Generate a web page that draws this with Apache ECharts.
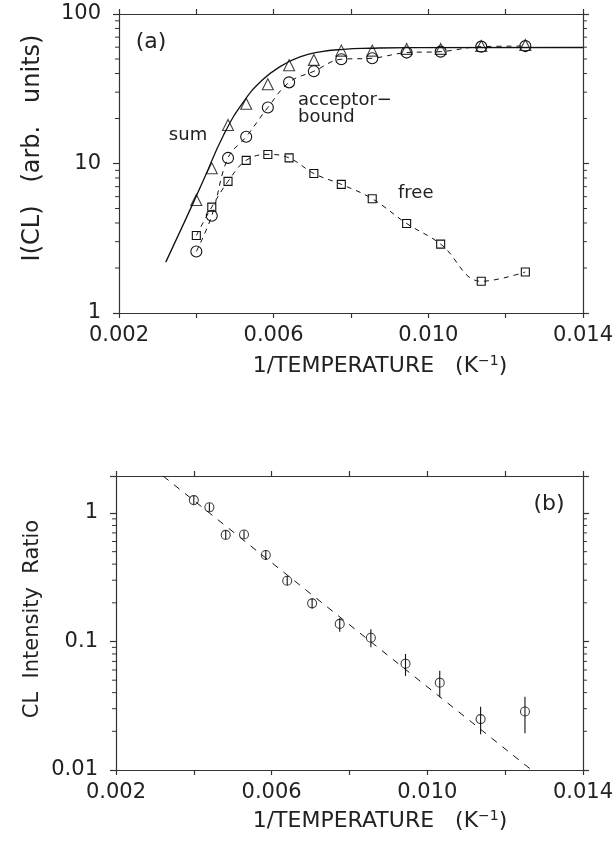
<!DOCTYPE html>
<html>
<head>
<meta charset="utf-8">
<script src="https://cdn.jsdelivr.net/npm/echarts@6/dist/echarts.min.js"></script>
<style>
html,body{margin:0;padding:0;background:#fff;}
#chart{width:616px;height:846px;}
</style>
</head>
<body>
<div id="chart"></div>
<script>
// ---------- data ----------
const invT = [0.00400, 0.00440, 0.00482, 0.00529, 0.00585, 0.00640, 0.00704, 0.00775, 0.00855, 0.00944, 0.01032, 0.01137, 0.01251];
const sumPts = [5.7, 9.3, 18.1, 25.1, 33.9, 45.4, 49.3, 56.9, 56.9, 58.4, 58.4, 61.1, 62.0];
const acceptorPts = [2.58, 4.47, 10.9, 15.1, 23.7, 34.9, 41.4, 49.8, 50.6, 55.2, 56.0, 60.5, 61.0];
const freePts = [3.30, 5.11, 7.59, 10.5, 11.5, 10.9, 8.57, 7.25, 5.81, 3.97, 2.89, 1.63, 1.88];
const sumFitX = [0.00321, 0.00370, 0.00420, 0.00470, 0.00520, 0.00570, 0.00620, 0.00670, 0.00720, 0.00780, 0.00850, 0.00950, 0.01400];
const sumFitY = [2.19, 4.1, 7.9, 15.4, 25.4, 36.0, 45.0, 51.8, 55.8, 58.0, 59.0, 59.6, 59.7];

const ratio   = [1.26, 1.107, 0.675, 0.68, 0.471, 0.297, 0.198, 0.137, 0.107, 0.0672, 0.0478, 0.0249, 0.0285];
const ratioHi = [1.36, 1.19, 0.724, 0.73, 0.515, 0.322, 0.217, 0.152, 0.1245, 0.080, 0.0593, 0.0311, 0.0371];
const ratioLo = [1.17, 1.03, 0.628, 0.63, 0.43, 0.274, 0.181, 0.119, 0.0901, 0.054, 0.0368, 0.0190, 0.0193];
const ratioFitX = [0.00321, 0.01268];
const ratioFitY = [1.94, 0.01];

const xTickLabels = ['0.002', '0.006', '0.010', '0.014'];
const yTicksA = ['1', '10', '100'];
const yTicksB = ['0.01', '0.1', '1'];
const minorA = [2,3,4,5,6,7,8,9,20,30,40,50,60,70,80,90];
const minorB = [0.02,0.03,0.04,0.05,0.06,0.07,0.08,0.09,0.2,0.3,0.4,0.5,0.6,0.7,0.8,0.9];

// ---------- styling ----------
const FONT = '"DejaVu Sans", sans-serif';
const TXT = '#222';
const AX = '#333';

function xFmt(v){
  const s = xTickLabels.find(t => Math.abs(parseFloat(t) - v) < 1e-7);
  return s || '';
}
function logFmt(list){
  return function(v){
    const s = list.find(t => Math.abs(Math.log10(parseFloat(t)) - Math.log10(v)) < 1e-6);
    return s || '';
  };
}
const zip = (a, b) => a.map((v, i) => [v, b[i]]);

function xAx(grid, pos, showLabel){
  return {
    type: 'value', gridIndex: grid, position: pos, min: 0.002, max: 0.014, interval: 0.002,
    axisLine: {show: true, onZero: false, lineStyle: {color: AX, width: 1.2}},
    axisTick: {show: true, inside: false, length: 5, lineStyle: {color: AX, width: 1.2}},
    splitLine: {show: false},
    axisLabel: {show: showLabel, formatter: xFmt, margin: 12, color: TXT, fontSize: 21, fontFamily: FONT}
  };
}
function yAx(grid, pos, min, max, list, showLabel){
  return {
    type: 'log', logBase: 10, gridIndex: grid, position: pos, min: min, max: max,
    axisLine: {show: true, onZero: false, lineStyle: {color: AX, width: 1.2}},
    axisTick: {show: true, inside: false, length: 6, lineStyle: {color: AX, width: 1.2}},
    splitLine: {show: false},
    axisLabel: {show: showLabel, formatter: logFmt(list), margin: 18, color: TXT, fontSize: 21, fontFamily: FONT}
  };
}
function minorTicks(xi, yi, list){
  return {
    type: 'custom', xAxisIndex: xi, yAxisIndex: yi, silent: true, clip: false, z: 5,
    data: list.map(v => [0.002, v]),
    renderItem: function(params, api){
      const p = api.coord([0.002, api.value(1)]);
      const q = api.coord([0.014, api.value(1)]);
      return {type: 'group', children: [
        {type: 'line', shape: {x1: p[0] - 4, y1: p[1], x2: p[0], y2: p[1]}, style: {stroke: AX, lineWidth: 1}},
        {type: 'line', shape: {x1: q[0], y1: q[1], x2: q[0] + 4, y2: q[1]}, style: {stroke: AX, lineWidth: 1}}
      ]};
    }
  };
}

const hollow = {color: 'rgba(0,0,0,0)', borderColor: '#111', borderWidth: 1.1};
const xTitle = '1/TEMPERATURE   (K{s|\u22121})';
const xTitleRich = {s: {fontSize: 14, fontFamily: FONT, fill: TXT, verticalAlign: 'top', padding: [0, 0, 9, 0]}};

const option = {
  animation: false,
  backgroundColor: '#fff',
  grid: [
    {left: 119, top: 14, width: 468, height: 299},
    {left: 116, top: 476, width: 468, height: 294}
  ],
  xAxis: [xAx(0, 'bottom', true), xAx(0, 'top', false), xAx(1, 'bottom', true), xAx(1, 'top', false)],
  yAxis: [yAx(0, 'left', 1, 100, yTicksA, true), yAx(0, 'right', 1, 100, yTicksA, false),
          yAx(1, 'left', 0.01, 1.94, yTicksB, true), yAx(1, 'right', 0.01, 1.94, yTicksB, false)],
  series: [
    {type: 'line', xAxisIndex: 0, yAxisIndex: 0, data: zip(sumFitX, sumFitY), smooth: 0.5,
     showSymbol: false, lineStyle: {color: '#111', width: 1.3}, z: 3},
    {type: 'scatter', xAxisIndex: 0, yAxisIndex: 0, data: zip(invT, sumPts), symbol: 'triangle', symbolSize: 11,
     itemStyle: hollow, z: 4},
    {type: 'line', xAxisIndex: 0, yAxisIndex: 0, data: zip(invT, acceptorPts), smooth: 0.4,
     symbol: 'circle', symbolSize: 11, showSymbol: true, itemStyle: hollow,
     lineStyle: {color: '#111', width: 1, type: [5, 5]}, z: 3},
    {type: 'line', xAxisIndex: 0, yAxisIndex: 0, data: zip(invT, freePts), smooth: 0.4,
     symbol: 'rect', symbolSize: 8, showSymbol: true, itemStyle: hollow,
     lineStyle: {color: '#111', width: 1, type: [5, 5]}, z: 3},
    minorTicks(0, 0, minorA),
    {type: 'line', xAxisIndex: 2, yAxisIndex: 2, data: zip(ratioFitX, ratioFitY), showSymbol: false,
     lineStyle: {color: '#111', width: 1, type: [7, 7]}, z: 3},
    {type: 'custom', xAxisIndex: 2, yAxisIndex: 2, z: 4,
     data: invT.map((x, i) => [x, ratioLo[i], ratioHi[i]]),
     encode: {x: 0, y: [1, 2]},
     renderItem: function(params, api){
       const a = api.coord([api.value(0), api.value(1)]);
       const b = api.coord([api.value(0), api.value(2)]);
       return {type: 'line', shape: {x1: a[0], y1: a[1], x2: b[0], y2: b[1]}, style: {stroke: '#111', lineWidth: 1.1}};
     }},
    {type: 'scatter', xAxisIndex: 2, yAxisIndex: 2, data: zip(invT, ratio), symbol: 'circle', symbolSize: 9,
     itemStyle: hollow, z: 5},
    minorTicks(2, 2, minorB)
  ],
  graphic: [
    {type: 'text', x: 151, y: 42, style: {text: '(a)', fontSize: 22, fontFamily: FONT, fill: TXT, align: 'center', verticalAlign: 'middle'}},
    {type: 'text', x: 188, y: 135, style: {text: 'sum', fontSize: 18, fontFamily: FONT, fill: TXT, align: 'center', verticalAlign: 'middle'}},
    {type: 'text', x: 298, y: 100, style: {text: 'acceptor\u2212', fontSize: 18, fontFamily: FONT, fill: TXT, align: 'left', verticalAlign: 'middle'}},
    {type: 'text', x: 298, y: 117, style: {text: 'bound', fontSize: 18, fontFamily: FONT, fill: TXT, align: 'left', verticalAlign: 'middle'}},
    {type: 'text', x: 398, y: 193, style: {text: 'free', fontSize: 18, fontFamily: FONT, fill: TXT, align: 'left', verticalAlign: 'middle'}},
    {type: 'text', x: 549, y: 504, style: {text: '(b)', fontSize: 22, fontFamily: FONT, fill: TXT, align: 'center', verticalAlign: 'middle'}},
    {type: 'text', x: 33, y: 148, rotation: Math.PI / 2,
     style: {text: 'I(CL)   (arb.   units)', fontSize: 24, fontFamily: FONT, fill: TXT, align: 'center', verticalAlign: 'middle'}},
    {type: 'text', x: 33, y: 619, rotation: Math.PI / 2,
     style: {text: 'CL  Intensity  Ratio', fontSize: 21, fontFamily: FONT, fill: TXT, align: 'center', verticalAlign: 'middle'}},
    {type: 'text', x: 380, y: 366,
     style: {text: xTitle, fontSize: 22, fontFamily: FONT, fill: TXT, align: 'center', verticalAlign: 'middle', rich: xTitleRich}},
    {type: 'text', x: 380, y: 821,
     style: {text: xTitle, fontSize: 22, fontFamily: FONT, fill: TXT, align: 'center', verticalAlign: 'middle', rich: xTitleRich}}
  ]
};

const chart = echarts.init(document.getElementById('chart'), null, {renderer: 'canvas'});
chart.setOption(option);
</script>
</body>
</html>
